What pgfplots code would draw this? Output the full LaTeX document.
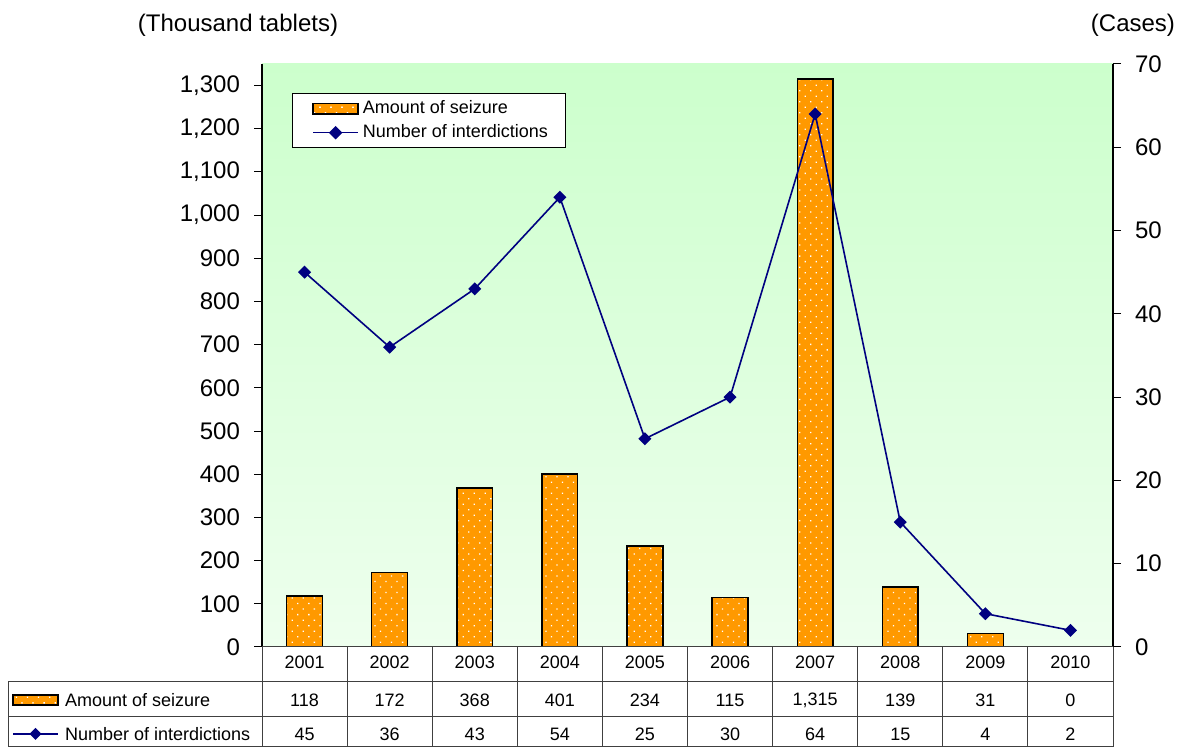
\documentclass[border=0pt]{standalone}
\usepackage{pgfplots}
\pgfplotsset{compat=1.18}
\usepackage{pgfplotstable}
\usepackage{fontspec}
\setmainfont{Liberation Sans}
\usetikzlibrary{patterns.meta}

\definecolor{barorange}{RGB}{255,153,0}
\definecolor{linenavy}{RGB}{0,0,128}
\definecolor{bgtop}{RGB}{204,255,204}
\definecolor{bgbottom}{RGB}{238,255,238}
\definecolor{gridgray}{RGB}{64,64,64}

% year, seizure (thousand tablets), interdictions (cases)
\pgfplotstableread{
idx year seizure cases
0 2001 118 45
1 2002 172 36
2 2003 368 43
3 2004 401 54
4 2005 234 25
5 2006 115 30
6 2007 1315 64
7 2008 139 15
8 2009 31 4
9 2010 0 2
}\datatable

\tikzset{
  seizurebar/.style={fill=barorange, draw=black, line width=0.7pt,
    postaction={pattern={Dots[radius=0.45pt, distance=3.9pt, angle=45]}, pattern color=white}},
  interline/.style={color=linenavy, line width=0.8pt, mark=square*,
    mark size=1.9pt, mark options={rotate=45, fill=linenavy, draw=linenavy}},
}

\pgfplotsset{
  common/.style={
    at={(131pt,50pt)}, anchor=south west,
    scale only axis, width=425.5pt, height=291.5pt,
    xmin=-0.5, xmax=9.5,
    axis x line=none,
    tick align=outside, major tick length=4pt,
    every tick/.style={black, line width=0.5pt},
    axis line style={black, line width=0.6pt},
    yticklabel style={font=\fontsize{12}{14}\selectfont},
    /pgf/number format/assume math mode=true,
    /pgf/number format/1000 sep={,},
  },
}

\begin{document}
\begin{tikzpicture}
\useasboundingbox (0pt,0pt) rectangle (594pt,373.5pt);

% left axis: amount of seizure
\begin{axis}[common,
  ymin=0, ymax=1350,
  ytick={0,100,...,1300},
  axis y line*=left,
  yticklabel style={xshift=-3.5pt},
  axis background/.style={top color=bgtop, bottom color=bgbottom},
  legend style={at={(0.035,0.95)}, anchor=north west, draw=black,
    fill=white, line width=0.5pt, font=\fontsize{9}{11}\selectfont,
    row sep=0pt, inner xsep=7pt, inner ysep=1.5pt},
  legend cell align=left,
]
\addplot[ybar, bar width=0.42, seizurebar,
  legend image code/.code={\path (0pt,0pt);
    \draw[seizurebar] (3pt,-2.6pt) rectangle (25.5pt,2.6pt);}]
  table[x=idx, y=seizure] {\datatable};
\addlegendentry{Amount of seizure}
\addlegendimage{interline,
  legend image code/.code={\path (0pt,0pt);
    \draw[linenavy, line width=0.8pt] (3pt,0pt) -- (25.5pt,0pt);
    \fill[linenavy] (14.25pt,2.8pt) -- (17.05pt,0pt) -- (14.25pt,-2.8pt) -- (11.45pt,0pt) -- cycle;}}
\addlegendentry{Number of interdictions}
\end{axis}

% right axis: number of interdictions
\begin{axis}[common,
  ymin=0, ymax=70,
  ytick={0,10,...,70},
  axis y line*=right,
  yticklabel style={xshift=3.5pt},
]
\addplot[interline] table[x=idx, y=cases] {\datatable};
\end{axis}

\begin{scope}[x=0.5pt, y=0.5pt]
% axis titles
\node[font=\fontsize{12}{14}\selectfont] at (238,722) {(Thousand tablets)};
\node[font=\fontsize{12}{14}\selectfont, anchor=east] at (1182,722) {(Cases)};

% data table below the plot
\begin{scope}[draw=gridgray, line width=0.5pt]
  \draw (262,100) -- (1113,100);
  \draw (8,65) -- (1113,65);
  \draw (8,30) -- (1113,30);
  \draw (8,0.5) -- (1113,0.5);
  \draw (8,65) -- (8,0);
  \foreach \k in {0,...,10} { \draw ({262+85.1*\k},100) -- ({262+85.1*\k},0); }
\end{scope}

\begin{scope}[font=\fontsize{9}{11}\selectfont]
  \foreach \i in {0,...,9} {
    \pgfplotstablegetelem{\i}{year}\of\datatable \let\yr\pgfplotsretval
    \pgfplotstablegetelem{\i}{seizure}\of\datatable \let\sz\pgfplotsretval
    \pgfplotstablegetelem{\i}{cases}\of\datatable \let\cs\pgfplotsretval
    \node at ({262+85.1*(\i+0.5)},85) {\yr};
    \node at ({262+85.1*(\i+0.5)},47) {\pgfmathprintnumber[assume math mode=true, 1000 sep={,}]{\sz}};
    \node at ({262+85.1*(\i+0.5)},13) {\pgfmathprintnumber[assume math mode=true]{\cs}};
  }
  % row keys
  \draw[seizurebar] (13,42) rectangle (58,52);
  \node[anchor=west] at (58,47) {Amount of seizure};
  \draw[linenavy, line width=0.8pt] (13,13) -- (58,13);
  \fill[linenavy] (35.5,19) -- (41.5,13) -- (35.5,7) -- (29.5,13) -- cycle;
  \node[anchor=west] at (58,13) {Number of interdictions};
\end{scope}
\end{scope}
\end{tikzpicture}
\end{document}
